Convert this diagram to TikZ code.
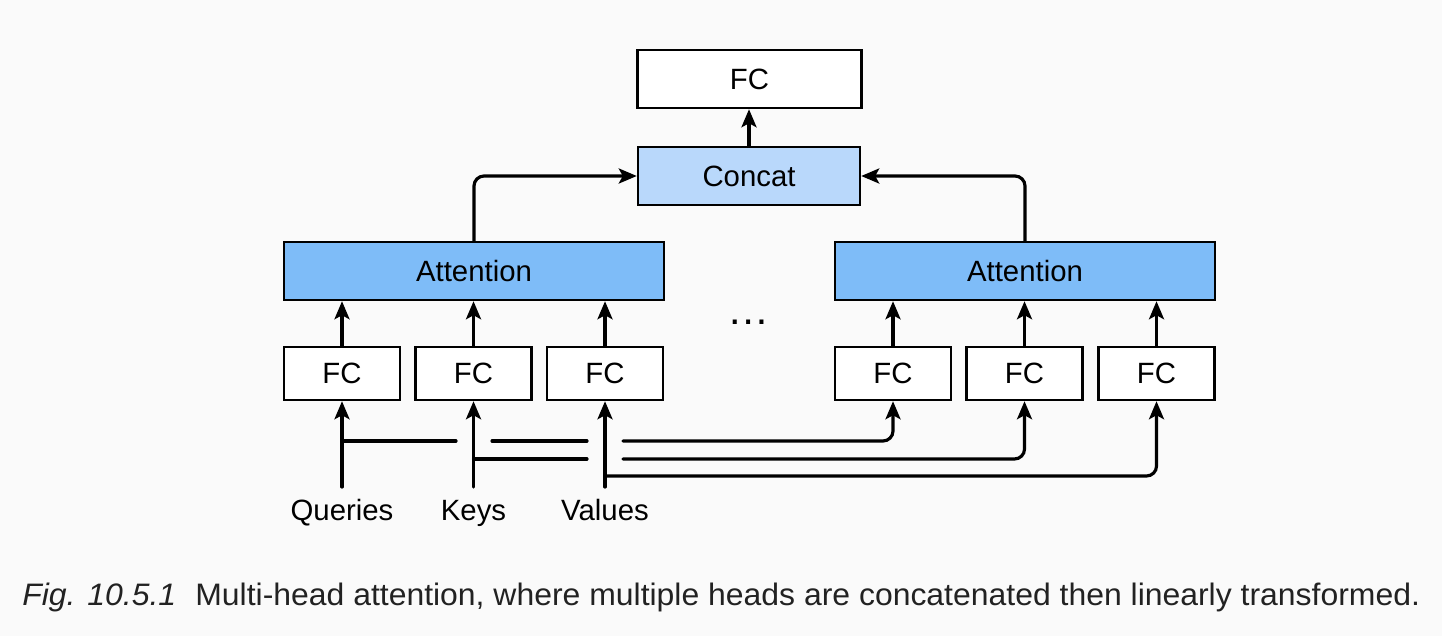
\documentclass[tikz,border=0pt]{standalone}
\usepackage{fontspec}
\setmainfont{Liberation Sans}
\usetikzlibrary{arrows.meta,calc}
\definecolor{bg}{HTML}{FAFAFA}
\definecolor{concatfill}{HTML}{B9D8FB}
\definecolor{attfill}{HTML}{7EBCF8}
\definecolor{captext}{HTML}{222222}
\begin{document}
\begin{tikzpicture}[x=0.02cm,y=-0.02cm,
  box/.style={draw=black, line width=1.4pt, inner sep=0pt, font=\fontsize{16.7}{20}\selectfont},
  bigbox/.style={box, minimum height=1.16cm},
  fcbox/.style={box, fill=white, minimum width=2.32cm, minimum height=1.06cm},
  lbl/.style={inner sep=0pt, anchor=base, font=\fontsize{16.7}{20}\selectfont},
  conn/.style={line width=1.8pt, line cap=round, -{Stealth[length=0.36cm,width=0.3cm,inset=0.08cm]}},
  wire/.style={line width=1.8pt, line cap=round},
  rc/.style={rounded corners=0.2cm}]
\fill[bg] (0,0) rectangle (1442,636);
\useasboundingbox (0,0) rectangle (1442,636);

% boxes
\node[bigbox, fill=white, minimum width=4.48cm] (fctop) at (749.5,79) {FC};
\node[bigbox, fill=concatfill, minimum width=4.44cm] (concat) at (749,176) {Concat};
\node[bigbox, fill=attfill, minimum width=7.6cm] (attL) at (474,271) {Attention};
\node[bigbox, fill=attfill, minimum width=7.6cm] (attR) at (1025,271) {Attention};

\node[fcbox] (fq1) at (342,373.5) {FC};
\node[fcbox] (fk1) at (473.5,373.5) {FC};
\node[fcbox] (fv1) at (605,373.5) {FC};
\node[fcbox] (fq2) at (893,373.5) {FC};
\node[fcbox] (fk2) at (1024.5,373.5) {FC};
\node[fcbox] (fv2) at (1156.5,373.5) {FC};

\node[inner sep=0pt, font=\fontsize{24}{28}\selectfont] (dots) at (749,322) {…};

% input labels
\node[lbl] (qlab) at (342,520) {Queries};
\node[lbl] (klab) at (473.5,520) {Keys};
\node[lbl] (vlab) at (605,520) {Values};

\coordinate (qb) at (342,487);
\coordinate (kb) at (473.5,487);
\coordinate (vb) at (605,487);

% inputs to FCs of head 1
\draw[conn] (qb) -- (fq1.south);
\draw[conn] (kb) -- (fk1.south);
\draw[conn] (vb) -- (fv1.south);

% FC to attention
\foreach \n in {fq1,fk1,fv1} \draw[conn] (\n.north) -- (\n.north |- attL.south);
\foreach \n in {fq2,fk2,fv2} \draw[conn] (\n.north) -- (\n.north |- attR.south);

% attention to concat
\draw[conn, rc] (attL.north) |- (concat.west);
\draw[conn, rc] (attR.north) |- (concat.east);
\draw[conn] (concat.north) -- (concat.north |- fctop.south);

% branching wires with bridges
\coordinate (q0) at (342,441);
\coordinate (q1) at (456,441);
\coordinate (q2) at (492,441);
\coordinate (q3) at (587,441);
\coordinate (q4) at (623,441);
\coordinate (k0) at (473.5,459);
\coordinate (k1) at (587,459);
\coordinate (k2) at (623,459);
\coordinate (v0) at (605,476);

\draw[wire] (q0) -- (q1);
\draw[wire] (q2) -- (q3);
\draw[conn, rc] (q4) -| (fq2.south);
\draw[wire] (k0) -- (k1);
\draw[conn, rc] (k2) -| (fk2.south);
\draw[conn, rc] (v0) -| (fv2.south);

% caption
\node[inner sep=0pt, anchor=base west, text=captext] (cap) at (22,605)
  {\resizebox{27.96cm}{0.45cm}{\fontsize{17}{20}\selectfont\textit{Fig. 10.5.1}\hspace{0.6em}Multi-head attention, where multiple heads are concatenated then linearly transformed.}};
\end{tikzpicture}
\end{document}
